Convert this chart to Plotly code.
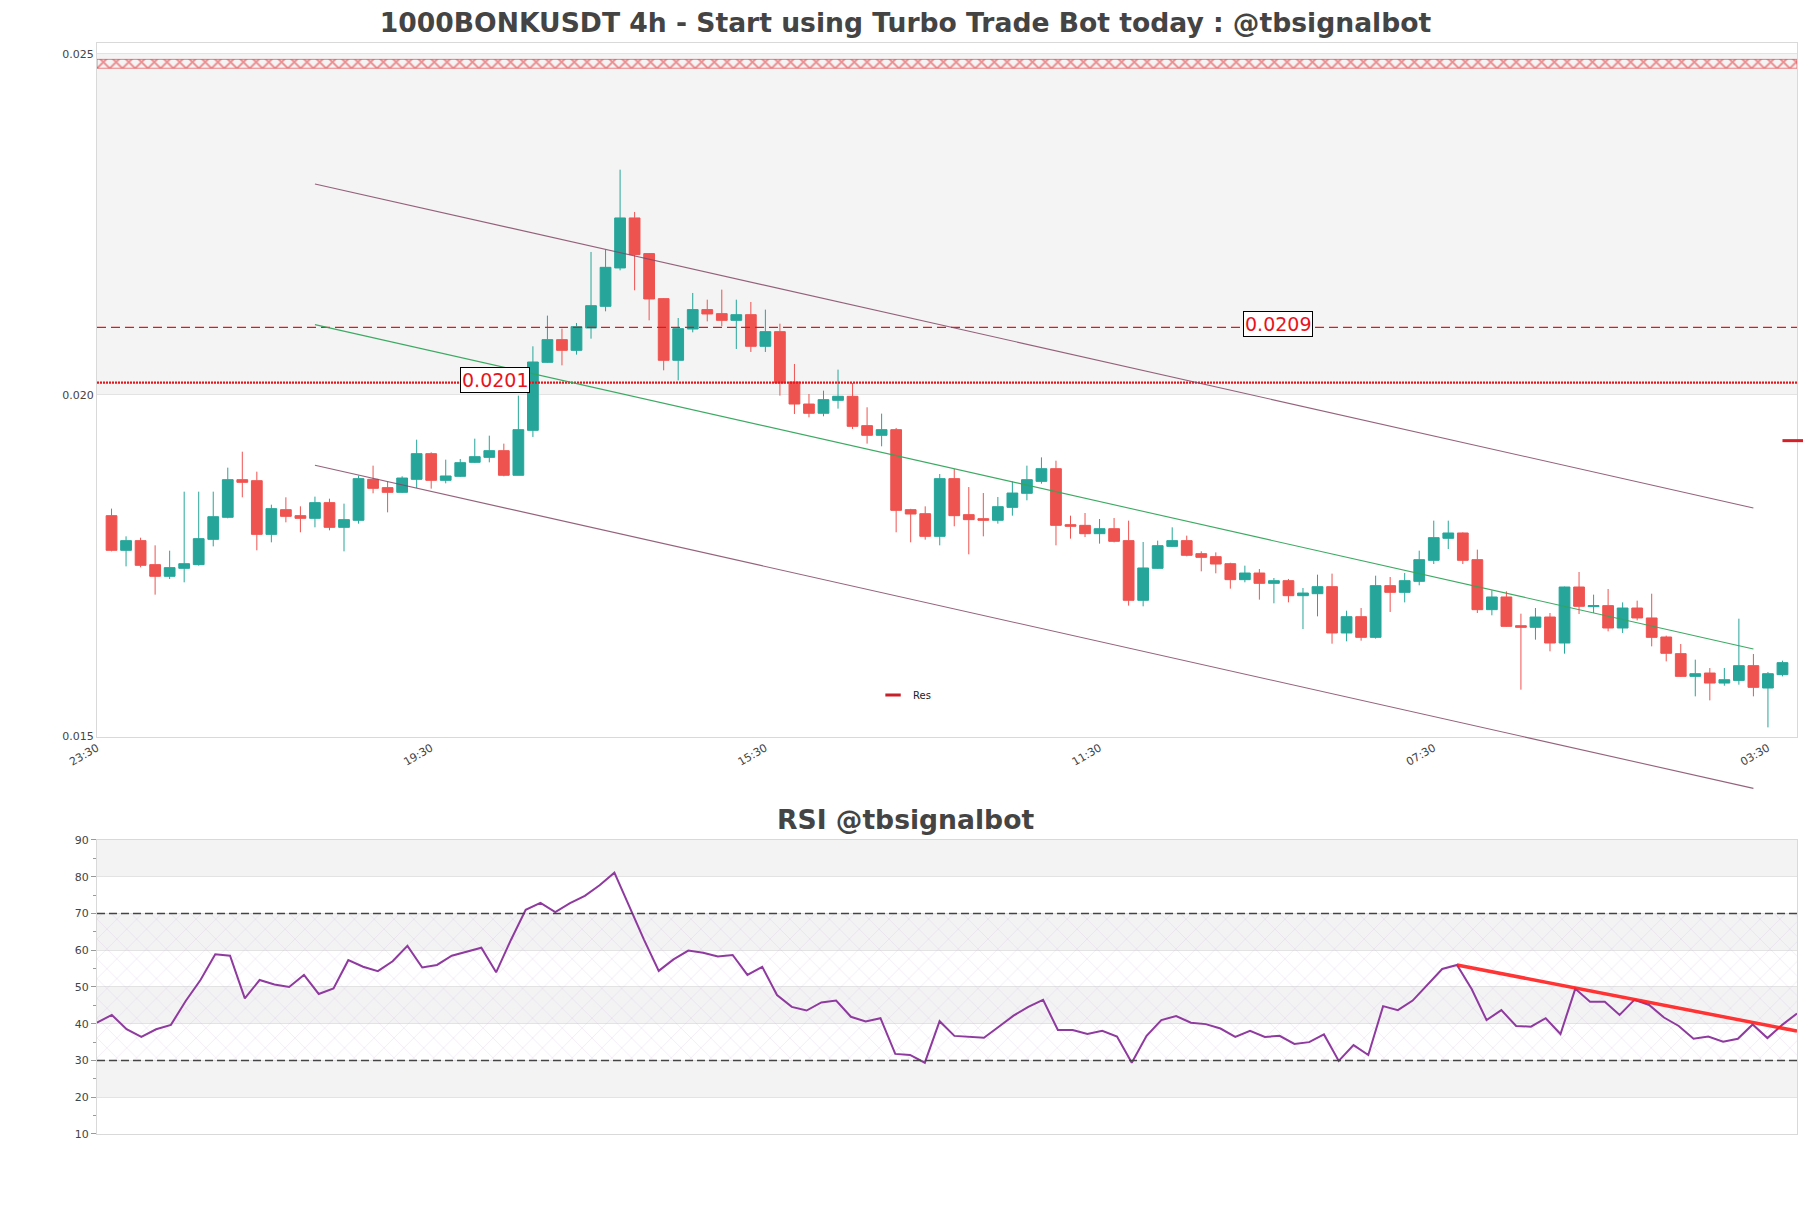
import pandas as pd
import plotly.graph_objects as go

# ---------------- data ----------------
start_time = "2024-12-01 03:30"
opens = [0.018230, 0.017722, 0.017864, 0.017512, 0.017341, 0.017458, 0.017512, 0.017883, 0.018206, 0.018758,
         0.018743, 0.017956, 0.018318, 0.018230, 0.018191, 0.018421, 0.018059, 0.018162, 0.018763, 0.018641,
         0.018572, 0.018763, 0.019139, 0.018748, 0.018807, 0.019012, 0.019085, 0.019183, 0.018822, 0.019481,
         0.020478, 0.020811, 0.020654, 0.020982, 0.021299, 0.021862, 0.022595, 0.022072, 0.021412, 0.020508,
         0.020967, 0.021251, 0.021192, 0.021094, 0.021177, 0.020713, 0.020928, 0.020190, 0.019867, 0.019731,
         0.019921, 0.019980, 0.019550, 0.019408, 0.019491, 0.018318, 0.018259, 0.017927, 0.018773, 0.018245,
         0.018186, 0.018162, 0.018352, 0.018558, 0.018733, 0.018919, 0.018098, 0.018088, 0.017966, 0.018039,
         0.017864, 0.016989, 0.017458, 0.017780, 0.017864, 0.017673, 0.017629, 0.017526, 0.017292, 0.017389,
         0.017238, 0.017277, 0.017057, 0.017086, 0.017189, 0.016510, 0.016749, 0.016446, 0.017204, 0.017106,
         0.017267, 0.017575, 0.017898, 0.017976, 0.017585, 0.016852, 0.017038, 0.016617, 0.016593, 0.016744,
         0.016363, 0.017184, 0.016896, 0.016911, 0.016583, 0.016876, 0.016730, 0.016451, 0.016207, 0.015874,
         0.015923, 0.015776, 0.015815, 0.016031, 0.015703, 0.015899]
highs = [0.018333, 0.017927, 0.017907, 0.017795, 0.017717, 0.018582, 0.018582, 0.018582, 0.018934, 0.019168,
         0.018875, 0.018391, 0.018499, 0.018367, 0.018509, 0.018479, 0.018406, 0.018817, 0.018963, 0.018729,
         0.018807, 0.019344, 0.019159, 0.019051, 0.019061, 0.019359, 0.019403, 0.019286, 0.019990, 0.020713,
         0.021163, 0.020972, 0.021055, 0.022096, 0.022130, 0.023303, 0.022683, 0.022080, 0.021420, 0.021128,
         0.021495, 0.021397, 0.021544, 0.021397, 0.021363, 0.021251, 0.021045, 0.020454, 0.020014, 0.020063,
         0.020371, 0.020175, 0.019819, 0.019726, 0.019516, 0.018330, 0.018367, 0.018841, 0.018914, 0.018650,
         0.018562, 0.018504, 0.018733, 0.018963, 0.019085, 0.019036, 0.018230, 0.018269, 0.018181, 0.018196,
         0.018157, 0.017844, 0.017864, 0.018059, 0.017937, 0.017707, 0.017692, 0.017540, 0.017497, 0.017448,
         0.017316, 0.017302, 0.017170, 0.017365, 0.017380, 0.016837, 0.016876, 0.017350, 0.017331, 0.017389,
         0.017717, 0.018157, 0.018157, 0.017985, 0.017732, 0.017135, 0.017121, 0.016793, 0.016876, 0.016803,
         0.017190, 0.017404, 0.017072, 0.017155, 0.016959, 0.016984, 0.017086, 0.016471, 0.016348, 0.016119,
         0.015996, 0.015996, 0.016720, 0.016202, 0.015938, 0.016104]
lows = [0.017707, 0.017487, 0.017473, 0.017072, 0.017301, 0.017253, 0.017497, 0.017780, 0.018191, 0.018499,
        0.017722, 0.017839, 0.018132, 0.017986, 0.018059, 0.018015, 0.017707, 0.018113, 0.018558, 0.018279,
        0.018562, 0.018636, 0.018626, 0.018704, 0.018797, 0.019002, 0.019012, 0.018807, 0.018822, 0.019384,
        0.020470, 0.020434, 0.020591, 0.020825, 0.021226, 0.021827, 0.021534, 0.021094, 0.020361, 0.020214,
        0.020918, 0.021079, 0.021006, 0.020674, 0.020630, 0.020630, 0.019990, 0.019721, 0.019672, 0.019687,
        0.019799, 0.019501, 0.019286, 0.019247, 0.017986, 0.017839, 0.017878, 0.017795, 0.018074, 0.017663,
        0.017927, 0.018113, 0.018230, 0.018455, 0.018699, 0.017795, 0.017893, 0.017917, 0.017820, 0.017839,
        0.016911, 0.016901, 0.017450, 0.017771, 0.017634, 0.017414, 0.017385, 0.017160, 0.017253, 0.016999,
        0.016945, 0.016959, 0.016568, 0.016754, 0.016353, 0.016388, 0.016397, 0.016427, 0.016818, 0.016959,
        0.017209, 0.017521, 0.017741, 0.017521, 0.016803, 0.016769, 0.016598, 0.015679, 0.016412, 0.016241,
        0.016207, 0.016788, 0.016803, 0.016534, 0.016510, 0.016695, 0.016314, 0.016094, 0.015865, 0.015581,
        0.015522, 0.015737, 0.015752, 0.015581, 0.015126, 0.015874]
closes = [0.017722, 0.017864, 0.017502, 0.017341, 0.017468, 0.017526, 0.017893, 0.018215, 0.018758, 0.018719,
          0.017956, 0.018333, 0.018220, 0.018191, 0.018421, 0.018059, 0.018172, 0.018773, 0.018631, 0.018572,
          0.018782, 0.019139, 0.018748, 0.018812, 0.019007, 0.019095, 0.019183, 0.018822, 0.019491, 0.020483,
          0.020811, 0.020654, 0.021001, 0.021309, 0.021871, 0.022595, 0.022057, 0.021407, 0.020508, 0.020972,
          0.021251, 0.021187, 0.021094, 0.021177, 0.020713, 0.020928, 0.020175, 0.019867, 0.019731, 0.019931,
          0.019980, 0.019540, 0.019408, 0.019491, 0.018308, 0.018254, 0.017927, 0.018773, 0.018230, 0.018172,
          0.018162, 0.018362, 0.018562, 0.018758, 0.018919, 0.018088, 0.018074, 0.017966, 0.018039, 0.017854,
          0.016989, 0.017463, 0.017790, 0.017864, 0.017649, 0.017619, 0.017521, 0.017292, 0.017389, 0.017238,
          0.017277, 0.017057, 0.017096, 0.017189, 0.016510, 0.016749, 0.016446, 0.017204, 0.017106, 0.017277,
          0.017585, 0.017908, 0.017976, 0.017575, 0.016852, 0.017038, 0.016607, 0.016593, 0.016744, 0.016363,
          0.017184, 0.016901, 0.016911, 0.016583, 0.016876, 0.016730, 0.016446, 0.016212, 0.015874, 0.015913,
          0.015776, 0.015825, 0.016031, 0.015713, 0.015913, 0.016075]
rsi = [40.3, 42.4, 38.5, 36.4, 38.5, 39.7, 46.2, 51.9, 58.9, 58.5,
       46.9, 51.9, 50.7, 50.0, 53.3, 48.1, 49.6, 57.3, 55.5, 54.3,
       57.0, 61.2, 55.3, 56.0, 58.5, 59.6, 60.7, 54.0, 62.8, 71.0,
       72.9, 70.4, 72.8, 74.8, 77.7, 81.1, 71.9, 62.9, 54.4, 57.5,
       59.9, 59.3, 58.3, 58.7, 53.3, 55.5, 47.8, 44.6, 43.6, 45.8,
       46.3, 41.9, 40.6, 41.5, 31.8, 31.5, 29.4, 40.7, 36.7, 36.5,
       36.2, 39.2, 42.2, 44.6, 46.5, 38.3, 38.3, 37.2, 38.1, 36.5,
       29.4, 36.7, 41.0, 42.1, 40.3, 39.9, 38.7, 36.4, 38.1, 36.4,
       36.7, 34.5, 35.0, 37.1, 29.9, 34.2, 31.5, 44.8, 43.7, 46.3,
       50.5, 54.9, 56.0, 49.4, 41.0, 43.7, 39.4, 39.2, 41.5, 37.2,
       49.5, 46.0, 46.0, 42.4, 46.5, 45.1, 41.7, 39.4, 35.9, 36.5,
       35.1, 35.9, 39.8, 36.1, 39.7, 42.8]

# price channel: (candle index, price) at start and end
channel_idx = [14, 113]
channel_upper = [0.023094, 0.018343]
channel_mid = [0.021031, 0.016276]
channel_lower = [0.018968, 0.014232]

# horizontal levels
level_dash = 0.02099
level_dot = 0.02018
level_labels = ["0.0201", "0.0209"]
label_idx = [26.4, 80.3]
zone_band = [0.02479, 0.02492]          # hatched red zone
shade_band = [0.020, 0.025]

# resistance marker at the last candle
res_level = 0.01933
res_len_hours = 7.3

# RSI trend line: (index, value)
rsi_trend_idx = [92, 115]
rsi_trend_val = [56.0, 38.0]

x_tick_idx = [-1, 22, 45, 68, 91, 114]
x_tick_text = ["23:30", "19:30", "15:30", "11:30", "07:30", "03:30"]
y_range = [0.01499, 0.02516]

# ---------------- build ----------------
step = pd.Timedelta(hours=4)
t0 = pd.Timestamp(start_time)
times = [t0 + i * step for i in range(len(opens))]
def t_at(i):
    return t0 + step * i

xr0, xr1 = t_at(-1), t_at(len(opens))
def xf(t):
    return (t - xr0) / (xr1 - xr0)
def yf(p):
    return (p - y_range[0]) / (y_range[1] - y_range[0])

FONT = "DejaVu Sans"
GRAY = "#444444"

fig = go.Figure()

# hatched red zone at top
fig.add_trace(go.Scatter(
    x=[xr0, xr1, xr1, xr0, xr0], y=[zone_band[0], zone_band[0], zone_band[1], zone_band[1], zone_band[0]],
    mode="lines", fill="toself", line=dict(width=0.8, color="rgba(227,38,43,0.7)"),
    fillcolor="rgba(0,0,0,0)",
    fillpattern=dict(shape="x", fgcolor="#e3262b", bgcolor="rgba(0,0,0,0)", size=9, solidity=0.38),
    showlegend=False, hoverinfo="skip", xaxis="x", yaxis="y"))

fig.add_trace(go.Candlestick(
    x=times, open=opens, high=highs, low=lows, close=closes,
    increasing=dict(line=dict(color="#26a69a", width=1), fillcolor="#26a69a"),
    decreasing=dict(line=dict(color="#ef5350", width=1), fillcolor="#ef5350"),
    showlegend=False, xaxis="x", yaxis="y"))

# legend proxy for Res
fig.add_trace(go.Scatter(
    x=[None], y=[None], mode="markers", name="Res",
    marker=dict(symbol="line-ew", size=11, line=dict(width=3, color="#c8202a")),
    xaxis="x", yaxis="y"))

# RSI
rsi_x0, rsi_x1 = times[0], times[-1]
fig.add_trace(go.Scatter(
    x=[rsi_x0, rsi_x1, rsi_x1, rsi_x0, rsi_x0], y=[30, 30, 70, 70, 30],
    mode="lines", fill="toself", line=dict(width=0, color="rgba(0,0,0,0)"),
    fillcolor="rgba(0,0,0,0)",
    fillpattern=dict(shape="x", fgcolor="rgba(195,165,215,0.5)", bgcolor="rgba(0,0,0,0)", size=14, solidity=0.11),
    showlegend=False, hoverinfo="skip", xaxis="x2", yaxis="y2"))
fig.add_trace(go.Scatter(
    x=times, y=rsi, mode="lines", line=dict(color="#8e3a9e", width=2),
    showlegend=False, xaxis="x2", yaxis="y2"))
fig.add_trace(go.Scatter(
    x=[times[i] for i in rsi_trend_idx], y=rsi_trend_val, mode="lines",
    line=dict(color="rgba(255,30,30,0.9)", width=3.5),
    showlegend=False, xaxis="x2", yaxis="y2"))

shapes = []
# shaded band main
shapes.append(dict(type="rect", xref="x domain", yref="y", x0=0, x1=1, y0=shade_band[0], y1=shade_band[1],
                   fillcolor="#f4f4f4", line=dict(width=0), layer="below"))
# RSI bands
for lo, hi in [(80, 90), (60, 70), (40, 50), (20, 30)]:
    shapes.append(dict(type="rect", xref="x2 domain", yref="y2", x0=0, x1=1, y0=lo, y1=hi,
                       fillcolor="#f3f3f4", line=dict(width=0), layer="below"))
for lv in [70, 30]:
    shapes.append(dict(type="line", xref="x2 domain", yref="y2", x0=0, x1=1, y0=lv, y1=lv,
                       line=dict(color="#444444", width=1.3, dash="8px,4px")))
# horizontal price levels
shapes.append(dict(type="line", xref="x domain", yref="y", x0=0, x1=1, y0=level_dash, y1=level_dash,
                   line=dict(color="#e8141c", width=1.3, dash="9px,5px")))
shapes.append(dict(type="line", xref="x domain", yref="y", x0=0, x1=1, y0=level_dot, y1=level_dot,
                   line=dict(color="#e8141c", width=2.4, dash="2px,1px")))
# channel lines (unclipped)
for vals, col in [(channel_upper, "rgba(130,70,100,0.85)"), (channel_mid, "rgba(50,165,90,0.95)"),
                  (channel_lower, "rgba(130,70,100,0.85)")]:
    shapes.append(dict(type="line", xref="x domain", yref="y domain",
                       x0=xf(t_at(channel_idx[0])), x1=xf(t_at(channel_idx[1])),
                       y0=yf(vals[0]), y1=yf(vals[1]), line=dict(color=col, width=1.1)))
# Res segment
shapes.append(dict(type="line", xref="x domain", yref="y domain",
                   x0=xf(times[-1]), x1=xf(times[-1] + pd.Timedelta(hours=res_len_hours)),
                   y0=yf(res_level), y1=yf(res_level), line=dict(color="#d61f26", width=3)))

annotations = []
for txt, lv, ix in zip(level_labels, [level_dot, level_dash], label_idx):
    annotations.append(dict(x=t0 + step * ix, y=lv, xref="x", yref="y", text=txt, showarrow=False,
                            font=dict(family=FONT, size=19, color="#e8141c"), bgcolor="white",
                            bordercolor="black", borderwidth=1, borderpad=1, yshift=3))
annotations.append(dict(x=0.4756, y=0.2885, xref="paper", yref="paper", text="RSI @tbsignalbot",
                        showarrow=False, xanchor="center", yanchor="middle",
                        font=dict(family=FONT, size=26.6, color=GRAY, weight="bold")))

fig.update_layout(
    width=1795, height=1192, autosize=False,
    margin=dict(l=89, r=6, t=35, b=66),
    paper_bgcolor="white", plot_bgcolor="white",
    font=dict(family=FONT, color=GRAY),
    title=dict(text="1000BONKUSDT 4h - Start using Turbo Trade Bot today : @tbsignalbot",
               x=0.5, xref="container", xanchor="center", y=1 - 14.5 / 1192, yref="container",
               yanchor="middle", font=dict(family=FONT, size=26.6, color=GRAY, weight="bold")),
    boxgap=0.26, boxgroupgap=0,
    xaxis=dict(domain=[0, 1], anchor="y", type="date", range=[xr0, xr1], rangeslider=dict(visible=False),
               tickvals=[t_at(i) for i in x_tick_idx], ticktext=x_tick_text, tickangle=-30,
               tickfont=dict(size=11, color=GRAY), showgrid=False, showline=True, mirror=True,
               linecolor="#d9d9d9", linewidth=1, ticks="", zeroline=False),
    yaxis=dict(domain=[0.3642, 1.0], anchor="x", range=y_range, tickvals=[0.015, 0.020, 0.025],
               ticktext=["0.015", "0.020", "0.025"], tickfont=dict(size=11, color=GRAY),
               showgrid=True, gridcolor="#e3e3e3", showline=True, mirror=True, linecolor="#d9d9d9",
               zeroline=False, ticks=""),
    xaxis2=dict(domain=[0, 1], anchor="y2", type="date", range=[rsi_x0, rsi_x1], showticklabels=False,
                showgrid=False, showline=True, mirror=True, linecolor="#d9d9d9", ticks="", zeroline=False),
    yaxis2=dict(domain=[0, 0.26948], anchor="x2", range=[10, 90], dtick=10, tick0=10,
                tickfont=dict(size=11, color=GRAY), showgrid=True, gridcolor="#e3e3e3",
                showline=True, mirror=True, linecolor="#d9d9d9", zeroline=False,
                ticks="outside", ticklen=5, tickcolor="#999999",
                minor=dict(dtick=5, ticks="outside", ticklen=3, tickcolor="#999999", showgrid=False)),
    legend=dict(x=0.4565, y=0.4024, xanchor="left", yanchor="middle", bgcolor="rgba(0,0,0,0)",
                font=dict(family=FONT, size=10, color="#222222")),
    shapes=shapes, annotations=annotations,
    hovermode=False,
)

fig.write_html("out.html")
